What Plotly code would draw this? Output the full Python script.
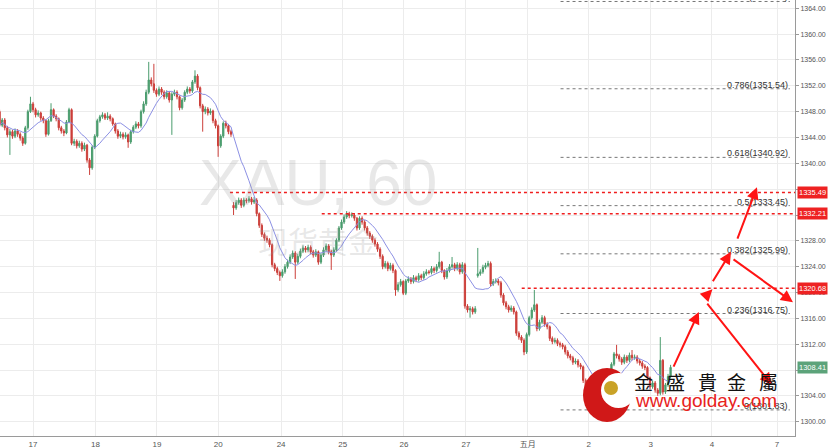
import plotly.graph_objects as go
import pandas as pd

# ---------------- data (hourly XAU candles) ----------------
opens = [
    1348.0, 1345.9, 1346.7, 1345.5, 1344.4, 1344.9, 1344.2, 1345.0, 1344.5, 1343.9,
    1343.1, 1345.5, 1348.0, 1349.2, 1348.3, 1347.5, 1347.8, 1347.0, 1346.6, 1344.5,
    1346.6, 1348.3, 1347.3, 1346.9, 1345.5, 1345.0, 1344.7, 1346.4, 1348.3, 1343.1,
    1343.4, 1342.7, 1343.1, 1342.2, 1342.8, 1340.5, 1339.3, 1342.5, 1344.2, 1346.6,
    1347.2, 1347.5, 1347.0, 1347.3, 1346.9, 1346.1, 1345.0, 1344.2, 1344.5, 1344.1,
    1344.4, 1343.3, 1344.9, 1345.6, 1346.1, 1345.8, 1348.0, 1349.2, 1351.0, 1352.9,
    1352.3, 1351.3, 1350.7, 1351.5, 1351.0, 1350.3, 1350.9, 1349.8, 1350.7, 1351.0,
    1350.3, 1348.6, 1349.8, 1351.0, 1351.5, 1351.2, 1352.6, 1353.5, 1351.7, 1348.9,
    1348.0, 1348.4, 1347.8, 1348.1, 1346.6, 1345.8, 1342.7, 1344.2, 1346.2, 1345.8,
    1344.9, 1333.5, 1333.1, 1333.9, 1334.3, 1333.5, 1334.3, 1334.2, 1334.5, 1334.0,
    1334.3, 1332.2, 1330.4, 1329.0, 1328.4, 1328.1, 1327.4, 1324.3, 1323.7, 1323.1,
    1322.6, 1323.2, 1324.0, 1324.7, 1325.5, 1326.1, 1324.7, 1325.6, 1326.4, 1326.9,
    1326.6, 1327.0, 1326.3, 1325.8, 1326.3, 1324.7, 1325.8, 1326.6, 1327.2, 1326.3,
    1325.8, 1326.6, 1328.1, 1330.0, 1330.9, 1331.7, 1332.2, 1331.9, 1332.0, 1331.5,
    1330.0, 1331.5, 1330.9, 1330.0, 1329.2, 1328.7, 1328.1, 1327.5, 1326.7, 1325.6,
    1324.0, 1324.5, 1323.7, 1324.2, 1323.4, 1320.4, 1321.2, 1321.7, 1319.9, 1321.8,
    1322.1, 1321.7, 1322.3, 1322.0, 1322.6, 1322.3, 1322.9, 1323.2, 1323.1, 1323.7,
    1323.4, 1324.0, 1324.7, 1323.4, 1322.4, 1323.4, 1324.0, 1324.3, 1323.7, 1324.3,
    1323.2, 1324.3, 1317.9, 1317.3, 1317.5, 1317.0, 1322.6, 1322.9, 1323.2, 1323.9,
    1324.2, 1324.5, 1321.3, 1321.7, 1321.8, 1321.5, 1319.6, 1318.4, 1317.8, 1317.3,
    1317.6, 1317.0, 1313.7, 1313.1, 1312.6, 1310.8, 1313.5, 1316.1, 1317.3, 1318.1,
    1314.4, 1315.4, 1316.1, 1315.1, 1314.7, 1312.9, 1312.4, 1312.6, 1312.1, 1311.9,
    1311.6, 1310.8, 1310.2, 1309.9, 1309.2, 1309.4, 1308.8, 1308.5, 1306.4, 1305.2,
    1303.4, 1304.3, 1303.8, 1304.9, 1304.3, 1305.0, 1304.6, 1305.5, 1307.3, 1308.9,
    1310.5, 1310.2, 1309.7, 1309.2, 1310.0, 1309.5, 1310.3, 1309.9, 1310.0, 1309.4,
    1309.1, 1308.6, 1308.4, 1306.8, 1305.4, 1306.0, 1304.9, 1304.4, 1309.5, 1304.6,
    1305.7, 1307.0,
]
highs = [
    1348.3, 1347.0, 1347.0, 1345.8, 1345.3, 1345.2, 1345.4, 1345.3, 1344.8, 1344.2,
    1345.8, 1348.3, 1350.3, 1349.5, 1348.6, 1348.2, 1348.0, 1347.3, 1346.8, 1346.9,
    1349.3, 1348.5, 1347.6, 1347.1, 1345.8, 1345.3, 1346.7, 1348.6, 1348.5, 1343.8,
    1343.7, 1343.5, 1343.4, 1343.2, 1343.0, 1340.8, 1342.8, 1344.5, 1346.9, 1347.5,
    1347.9, 1347.8, 1347.9, 1347.6, 1347.1, 1346.3, 1345.3, 1344.9, 1344.8, 1344.8,
    1344.6, 1345.2, 1345.9, 1346.5, 1346.4, 1348.3, 1349.6, 1351.4, 1355.7, 1353.3,
    1355.4, 1351.6, 1351.9, 1351.8, 1351.3, 1351.3, 1351.2, 1351.0, 1351.4, 1351.3,
    1350.5, 1350.1, 1351.3, 1351.9, 1351.8, 1352.9, 1354.4, 1353.8, 1351.9, 1349.2,
    1348.8, 1348.7, 1348.5, 1348.3, 1346.9, 1346.0, 1344.5, 1346.5, 1346.6, 1346.1,
    1345.2, 1334.0, 1334.3, 1334.7, 1334.6, 1334.7, 1334.6, 1334.9, 1334.8, 1334.8,
    1334.6, 1332.4, 1330.7, 1329.3, 1328.8, 1328.4, 1327.6, 1324.6, 1324.0, 1323.4,
    1323.6, 1324.4, 1325.1, 1325.9, 1326.5, 1326.4, 1326.0, 1326.8, 1327.3, 1327.2,
    1327.4, 1327.3, 1326.6, 1326.7, 1326.5, 1326.1, 1327.0, 1327.6, 1327.5, 1326.6,
    1327.0, 1328.4, 1330.3, 1331.3, 1332.1, 1332.6, 1332.5, 1332.4, 1332.3, 1331.7,
    1331.8, 1331.8, 1331.2, 1330.3, 1329.5, 1329.0, 1328.4, 1327.8, 1327.0, 1325.9,
    1324.9, 1324.8, 1324.6, 1324.5, 1323.6, 1321.6, 1322.1, 1321.9, 1322.1, 1322.5,
    1322.4, 1322.7, 1322.6, 1323.0, 1322.9, 1323.3, 1323.6, 1323.5, 1324.1, 1324.0,
    1324.4, 1326.3, 1324.9, 1323.6, 1323.8, 1324.4, 1325.5, 1324.6, 1324.7, 1324.6,
    1324.7, 1324.6, 1318.2, 1317.9, 1317.8, 1317.9, 1326.9, 1323.6, 1324.3, 1324.6,
    1324.9, 1324.8, 1322.1, 1322.2, 1322.1, 1321.8, 1319.9, 1318.7, 1318.1, 1318.0,
    1317.9, 1317.2, 1314.0, 1313.4, 1312.9, 1313.8, 1316.4, 1317.7, 1320.4, 1318.3,
    1315.8, 1316.5, 1316.4, 1315.4, 1314.9, 1313.2, 1313.0, 1312.9, 1312.4, 1312.2,
    1311.9, 1311.1, 1310.5, 1310.2, 1309.8, 1309.7, 1309.1, 1308.7, 1306.7, 1305.4,
    1304.7, 1304.6, 1305.3, 1305.2, 1305.4, 1305.3, 1305.9, 1307.6, 1309.2, 1310.8,
    1311.9, 1310.5, 1310.0, 1310.4, 1310.3, 1310.7, 1311.1, 1310.4, 1310.3, 1309.7,
    1309.4, 1308.9, 1308.6, 1307.0, 1306.4, 1306.3, 1305.2, 1313.1, 1309.7, 1306.0,
    1307.4, 1308.8,
]
lows = [
    1345.6, 1345.6, 1345.1, 1344.0, 1341.3, 1343.8, 1343.9, 1344.1, 1343.5, 1342.7,
    1342.9, 1345.2, 1347.8, 1347.9, 1347.1, 1347.2, 1346.6, 1346.2, 1344.1, 1344.3,
    1346.4, 1347.0, 1346.5, 1345.1, 1344.6, 1344.2, 1344.5, 1346.2, 1342.8, 1342.7,
    1342.3, 1342.4, 1341.8, 1341.9, 1340.1, 1338.2, 1339.0, 1342.2, 1344.0, 1346.3,
    1346.9, 1346.7, 1346.7, 1346.5, 1345.8, 1344.6, 1343.8, 1343.9, 1343.7, 1343.8,
    1342.4, 1343.0, 1344.6, 1345.3, 1345.4, 1345.5, 1347.7, 1348.9, 1350.7, 1351.9,
    1350.9, 1350.3, 1350.4, 1350.6, 1349.9, 1350.0, 1349.4, 1344.4, 1350.4, 1349.9,
    1348.2, 1348.3, 1349.5, 1350.7, 1350.8, 1350.9, 1352.3, 1351.3, 1348.5, 1344.9,
    1347.6, 1347.4, 1347.5, 1346.2, 1345.4, 1341.0, 1342.4, 1343.9, 1345.4, 1344.5,
    1344.1, 1332.0, 1332.8, 1333.6, 1333.1, 1333.2, 1333.8, 1333.9, 1333.6, 1333.7,
    1331.8, 1330.0, 1328.6, 1328.0, 1327.7, 1327.0, 1323.9, 1323.3, 1322.7, 1321.8,
    1322.3, 1322.9, 1323.7, 1324.4, 1325.2, 1322.1, 1324.4, 1325.3, 1326.1, 1326.2,
    1326.3, 1325.9, 1325.4, 1325.5, 1324.3, 1324.4, 1325.5, 1326.3, 1325.9, 1323.5,
    1325.5, 1326.3, 1327.8, 1329.7, 1330.6, 1331.4, 1331.5, 1331.6, 1331.1, 1329.6,
    1329.7, 1330.5, 1329.6, 1328.8, 1328.3, 1327.7, 1327.1, 1326.3, 1325.2, 1323.6,
    1323.7, 1323.3, 1323.4, 1323.0, 1319.5, 1320.1, 1320.9, 1319.6, 1319.6, 1321.5,
    1321.3, 1321.4, 1321.6, 1321.7, 1321.9, 1322.0, 1322.6, 1322.8, 1322.8, 1323.0,
    1323.1, 1323.7, 1323.0, 1322.0, 1322.1, 1323.1, 1323.7, 1323.3, 1323.4, 1322.8,
    1322.9, 1317.5, 1316.9, 1316.1, 1316.6, 1316.7, 1322.3, 1322.6, 1322.9, 1323.6,
    1323.9, 1320.9, 1321.0, 1321.4, 1321.1, 1319.2, 1318.0, 1317.4, 1316.9, 1317.0,
    1316.6, 1313.3, 1312.7, 1312.2, 1310.3, 1310.5, 1313.2, 1315.8, 1317.0, 1314.0,
    1314.1, 1315.1, 1314.7, 1314.3, 1312.5, 1312.0, 1312.1, 1311.7, 1311.5, 1311.2,
    1310.4, 1309.8, 1309.5, 1308.8, 1308.9, 1308.4, 1308.1, 1306.0, 1304.8, 1301.83,
    1303.0, 1303.4, 1303.5, 1303.9, 1304.0, 1304.2, 1304.3, 1305.2, 1307.0, 1308.6,
    1309.8, 1309.3, 1308.8, 1308.9, 1309.1, 1309.2, 1309.5, 1309.6, 1309.0, 1308.7,
    1308.2, 1308.0, 1306.4, 1305.0, 1305.1, 1304.5, 1304.0, 1304.1, 1304.2, 1304.3,
    1305.4, 1306.7,
]
closes = [
    1345.9, 1346.7, 1345.5, 1344.4, 1344.9, 1344.2, 1345.0, 1344.5, 1343.9, 1343.1,
    1345.5, 1348.0, 1349.2, 1348.3, 1347.5, 1347.8, 1347.0, 1346.6, 1344.5, 1346.6,
    1348.3, 1347.3, 1346.9, 1345.5, 1345.0, 1344.7, 1346.4, 1348.3, 1343.1, 1343.4,
    1342.7, 1343.1, 1342.2, 1342.8, 1340.5, 1339.3, 1342.5, 1344.2, 1346.6, 1347.2,
    1347.5, 1347.0, 1347.3, 1346.9, 1346.1, 1345.0, 1344.2, 1344.5, 1344.1, 1344.4,
    1343.3, 1344.9, 1345.6, 1346.1, 1345.8, 1348.0, 1349.2, 1351.0, 1352.9, 1352.3,
    1351.3, 1350.7, 1351.5, 1351.0, 1350.3, 1350.9, 1349.8, 1350.7, 1351.0, 1350.3,
    1348.6, 1349.8, 1351.0, 1351.5, 1351.2, 1352.6, 1353.5, 1351.7, 1348.9, 1348.0,
    1348.4, 1347.8, 1348.1, 1346.6, 1345.8, 1342.7, 1344.2, 1346.2, 1345.8, 1344.9,
    1344.5, 1333.1, 1333.9, 1334.3, 1333.5, 1334.3, 1334.2, 1334.5, 1334.0, 1334.3,
    1332.2, 1330.4, 1329.0, 1328.4, 1328.1, 1327.4, 1324.3, 1323.7, 1323.1, 1322.6,
    1323.2, 1324.0, 1324.7, 1325.5, 1326.1, 1324.7, 1325.6, 1326.4, 1326.9, 1326.6,
    1327.0, 1326.3, 1325.8, 1326.3, 1324.7, 1325.8, 1326.6, 1327.2, 1326.3, 1325.8,
    1326.6, 1328.1, 1330.0, 1330.9, 1331.7, 1332.2, 1331.9, 1332.0, 1331.5, 1330.0,
    1331.5, 1330.9, 1330.0, 1329.2, 1328.7, 1328.1, 1327.5, 1326.7, 1325.6, 1324.0,
    1324.5, 1323.7, 1324.2, 1323.4, 1320.4, 1321.2, 1321.7, 1319.9, 1321.8, 1322.1,
    1321.7, 1322.3, 1322.0, 1322.6, 1322.3, 1322.9, 1323.2, 1323.1, 1323.7, 1323.4,
    1324.0, 1324.7, 1323.4, 1322.4, 1323.4, 1324.0, 1324.3, 1323.7, 1324.3, 1323.2,
    1324.3, 1317.9, 1317.3, 1317.5, 1317.0, 1317.5, 1322.9, 1323.2, 1323.9, 1324.2,
    1324.5, 1321.3, 1321.7, 1321.8, 1321.5, 1319.6, 1318.4, 1317.8, 1317.3, 1317.6,
    1317.0, 1313.7, 1313.1, 1312.6, 1310.8, 1313.5, 1316.1, 1317.3, 1318.1, 1314.4,
    1315.4, 1316.1, 1315.1, 1314.7, 1312.9, 1312.4, 1312.6, 1312.1, 1311.9, 1311.6,
    1310.8, 1310.2, 1309.9, 1309.2, 1309.4, 1308.8, 1308.5, 1306.4, 1305.2, 1303.4,
    1304.3, 1303.8, 1304.9, 1304.3, 1305.0, 1304.6, 1305.5, 1307.3, 1308.9, 1310.5,
    1310.2, 1309.7, 1309.2, 1310.0, 1309.5, 1310.3, 1309.9, 1310.0, 1309.4, 1309.1,
    1308.6, 1308.4, 1306.8, 1305.4, 1306.0, 1304.9, 1304.4, 1309.5, 1304.6, 1305.7,
    1307.0, 1308.41,
]
bar_index = list(range(len(closes)))
ma_period = 10

tick_pos = [13, 37.3, 61.2, 85, 109.5, 133.5, 157.3, 181.4, 205.4, 229.2, 253.3, 277.1, 302.4]
tick_labels = ["17", "18", "19", "20", "24", "25", "26", "27", "五月", "2", "3", "4", "7"]

fib_prices = [1301.83, 1316.75, 1325.99, 1333.45, 1340.92, 1351.54, 1365.05]
fib_labels = ["0(1301.83)", "0.236(1316.75)", "0.382(1325.99)", "0.5(1333.45)",
              "0.618(1340.92)", "0.786(1351.54)", "1(1365.05)"]
fib_start, fib_end = 218.2, 307.4

key_levels = [1335.49, 1332.21, 1320.68]
key_starts = [89.6, 125.3, 203.1]
last_price = 1308.41

# forecast arrows: (tail bar, tail price, head bar, head price)
arrows = [
    (261.9, 1308.3, 272.0, 1317.0),
    (273.6, 1319.0, 277.3, 1320.5),
    (277.1, 1321.5, 284.5, 1326.3),
    (286.8, 1328.1, 294.6, 1336.3),
    (274.8, 1318.5, 300.4, 1305.7),
    (284.9, 1325.3, 308.6, 1318.5),
]

UP, DOWN = "#4a9c6d", "#cc3f3a"
FONT = "Liberation Sans, Arial, Noto Sans CJK SC, sans-serif"

fig = go.Figure()
fig.add_trace(go.Candlestick(
    x=bar_index, open=opens, high=highs, low=lows, close=closes,
    increasing=dict(line=dict(color=UP, width=1), fillcolor=UP),
    decreasing=dict(line=dict(color=DOWN, width=1), fillcolor=DOWN),
    whiskerwidth=0, hoverinfo="skip", showlegend=False,
))
ma = pd.Series(closes).rolling(ma_period, min_periods=1).mean()
fig.add_trace(go.Scatter(x=bar_index, y=ma, mode="lines",
                         line=dict(color="#8c90e4", width=1), hoverinfo="skip",
                         showlegend=False))

shapes = []
annotations = []

# watermark
annotations.append(dict(text="XAU, 60", xref="paper", yref="paper", x=0.40, y=0.58,
                        showarrow=False, font=dict(family=FONT, size=64,
                                                   color="rgba(150,150,150,0.22)")))
annotations.append(dict(text="现货黄金", xref="paper", yref="paper", x=0.40, y=0.45,
                        showarrow=False, font=dict(family="Noto Sans CJK SC", size=30,
                                                   color="rgba(150,150,150,0.22)")))

# key red levels
for lvl, st in zip(key_levels, key_starts):
    shapes.append(dict(type="line", xref="x", yref="y", x0=st, x1=320, y0=lvl, y1=lvl,
                       line=dict(color="#f01e1e", width=1.5, dash="dot")))
    annotations.append(dict(text=f"{lvl:.2f}", xref="paper", yref="y", x=1, y=lvl,
                            xanchor="left", yanchor="middle", xshift=2, showarrow=False,
                            bgcolor="#ee2222", borderpad=1,
                            font=dict(family=FONT, size=7.5, color="white")))

# fibonacci levels
for p, lab in zip(fib_prices, fib_labels):
    shapes.append(dict(type="line", xref="x", yref="y", x0=fib_start, x1=fib_end, y0=p, y1=p,
                       line=dict(color="#777777", width=1, dash="dot")))
    annotations.append(dict(text=lab, xref="x", yref="y", x=fib_end, y=p, xanchor="right",
                            yanchor="bottom", yshift=-3, showarrow=False,
                            font=dict(family=FONT, size=9, color="#333333")))

# last price label
annotations.append(dict(text=f"{last_price:.2f}", xref="paper", yref="y", x=1, y=last_price,
                        xanchor="left", yanchor="middle", xshift=2, showarrow=False,
                        bgcolor="#5ca37a", borderpad=1,
                        font=dict(family=FONT, size=7.5, color="white")))

# forecast arrows
for tx, ty, hx, hy in arrows:
    annotations.append(dict(x=hx, y=hy, ax=tx, ay=ty, xref="x", yref="y", axref="x", ayref="y",
                            text="", showarrow=True, arrowhead=2, arrowsize=1.2,
                            arrowwidth=2, arrowcolor="#ff1414"))

# logo (golday)
def px(xp):
    return xp / 795.0
def py(yp):
    return 1 - yp / 436.0

shapes.append(dict(type="circle", xref="paper", yref="paper", x0=px(583), x1=px(631),
                   y0=py(422), y1=py(368), fillcolor="#d01818", line=dict(width=0)))
shapes.append(dict(type="circle", xref="paper", yref="paper", x0=px(601), x1=px(636),
                   y0=py(408), y1=py(373), fillcolor="white", line=dict(width=0)))
shapes.append(dict(type="circle", xref="paper", yref="paper", x0=px(604), x1=px(618),
                   y0=py(395), y1=py(381), fillcolor="#c9a227", line=dict(width=0)))
for ch, cx in zip(["金", "盛", "貴", "金", "屬"], [643, 675, 707, 736, 768]):
    annotations.append(dict(text=ch, xref="paper", yref="paper", x=px(cx), y=py(381),
                            showarrow=False, xanchor="center", yanchor="middle",
                            font=dict(family="Noto Sans CJK TC", size=19, color="#111111")))
annotations.append(dict(text="www.golday.com", xref="paper", yref="paper", x=px(706), y=py(400),
                        showarrow=False, xanchor="center", yanchor="middle",
                        font=dict(family=FONT, size=19, color="#e8231d")))

fig.update_layout(
    width=828, height=448, margin=dict(l=0, r=33, t=0, b=12),
    paper_bgcolor="white", plot_bgcolor="white", showlegend=False,
    font=dict(family=FONT),
    xaxis=dict(range=[0.15, 309.4], tickvals=tick_pos, ticktext=tick_labels,
               showgrid=True, gridcolor="#ececec", gridwidth=1, zeroline=False,
               showline=True, linecolor="#9a9a9a", ticks="",
               tickfont=dict(size=8, color="#555555"),
               rangeslider=dict(visible=False)),
    yaxis=dict(side="right", range=[1297.79, 1365.28], tick0=1300, dtick=4, tickformat=".2f",
               showgrid=True, gridcolor="#ececec", gridwidth=1, zeroline=False,
               showline=True, linecolor="#9a9a9a", ticks="outside", ticklen=3,
               tickcolor="#9a9a9a", tickfont=dict(size=7, color="#555555")),
    shapes=shapes, annotations=annotations,
)

fig.write_html("out.html", config={"displayModeBar": False},
               post_script="document.body.style.margin='0';")
